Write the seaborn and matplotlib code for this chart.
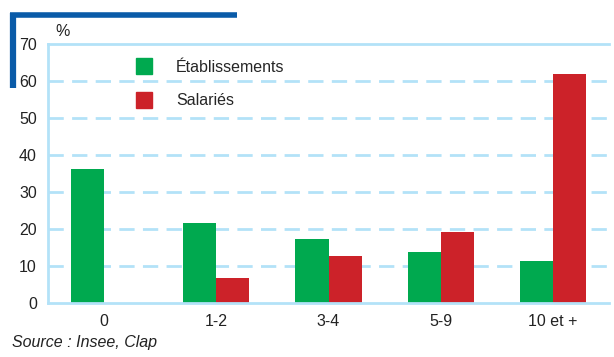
import matplotlib
matplotlib.use("Agg")
import matplotlib.pyplot as plt
import seaborn as sns
import pandas as pd
from matplotlib.lines import Line2D

# Share of establishments and of employees by size class (number of employees)
categories = ["0", "1-2", "3-4", "5-9", "10 et +"]
etablissements = [36.3, 21.6, 17.3, 13.8, 11.4]
salaries = [0.0, 6.8, 12.7, 19.2, 61.9]
series_names = ["Établissements", "Salariés"]
yticks = [0, 10, 20, 30, 40, 50, 60, 70]

GREEN = "#00a94f"
RED = "#cc2229"
LIGHT = "#b3e2f8"
DARK_BLUE = "#0a5ba8"
TEXT = "#222222"
FS = 11.5

df = pd.DataFrame({
    "taille": categories * 2,
    "part": etablissements + salaries,
    "serie": [series_names[0]] * len(categories) + [series_names[1]] * len(categories),
})

sns.set_theme(style="white")
plt.rcParams["font.family"] = ["Liberation Sans", "DejaVu Sans"]

fig = plt.figure(figsize=(6.14, 3.57), dpi=100)
ax = fig.add_axes([48 / 614, 1 - 303 / 357, (609 - 48) / 614, (303 - 44.3) / 357])

sns.barplot(data=df, x="taille", y="part", hue="serie", order=categories,
            hue_order=series_names, palette=[GREEN, RED], width=0.59,
            saturation=1, linewidth=0, ax=ax, legend=False)

ax.set_xlim(-0.5, 4.5)
ax.set_ylim(0, 70)
ax.set_yticks(yticks)
ax.set_yticklabels([str(v) for v in yticks])
ax.set_xlabel("")
ax.set_ylabel("")
ax.tick_params(axis="both", length=0, labelsize=FS, colors=TEXT)
ax.tick_params(axis="y", pad=8)
ax.tick_params(axis="x", pad=8)

for y in yticks[1:-1]:
    ax.axhline(y, color=LIGHT, lw=2, ls=(0, (5.5, 3)), zorder=0)

for side in ["left", "bottom", "top"]:
    ax.spines[side].set_color(LIGHT)
    ax.spines[side].set_linewidth(2)
ax.spines["right"].set_visible(False)

# Legend
handles = [Line2D([], [], marker="s", ls="", markersize=11, color=c) for c in (GREEN, RED)]
fig.legend(handles, series_names, loc="upper left", bbox_to_anchor=(128 / 614, 1 - 60 / 357),
           frameon=False, fontsize=FS, handletextpad=1.0, labelspacing=1.15,
           borderaxespad=0, borderpad=0)

# Unit label
fig.text(55 / 614, 1 - 32 / 357, "%", fontsize=FS, color=TEXT, va="center", ha="left")

# Source
fig.text(12 / 614, 1 - 342 / 357, "Source : Insee, Clap", fontsize=FS, style="italic",
         color=TEXT, va="center", ha="left")

# Decorative corner frame
fig.add_artist(Line2D([10 / 614, 237 / 614], [1 - 15 / 357, 1 - 15 / 357],
                      color=DARK_BLUE, lw=4, solid_capstyle="butt", transform=fig.transFigure))
fig.add_artist(Line2D([13 / 614, 13 / 614], [1 - 12.5 / 357, 1 - 88 / 357],
                      color=DARK_BLUE, lw=4.5, solid_capstyle="butt", transform=fig.transFigure))

fig.savefig("out.png", dpi=100)
